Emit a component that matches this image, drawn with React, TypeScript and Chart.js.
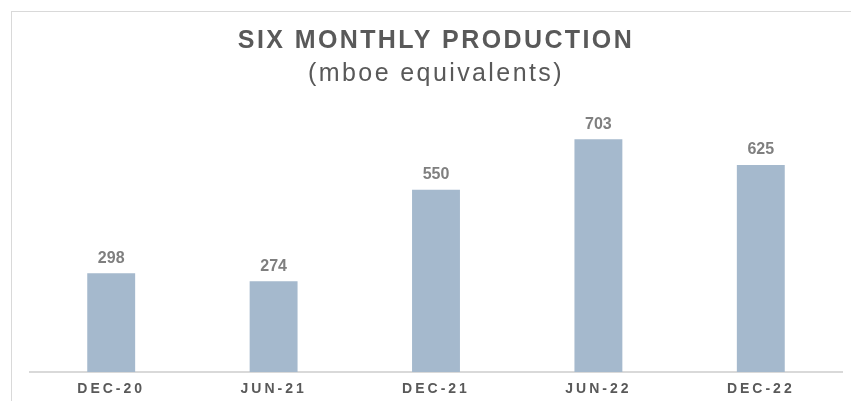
import React, { useEffect, useRef } from "react";
import { Chart, registerables } from "chart.js";

Chart.register(...registerables);

const categories = ["DEC-20", "JUN-21", "DEC-21", "JUN-22", "DEC-22"];
const production = [298, 274, 550, 703, 625];
const titleText = "SIX MONTHLY PRODUCTION";
const subtitleText = "(mboe equivalents)";

const FONT = "'Liberation Sans', Arial, sans-serif";

const framePlugin = {
  id: "frameAndSpacing",
  beforeDraw(chart: any) {
    const ctx = chart.ctx;
    ctx.save();
    ctx.strokeStyle = "#d9d9d9";
    ctx.lineWidth = 1;
    ctx.strokeRect(11.5, 11.5, 1000, 1000);
    ctx.restore();
    ctx.letterSpacing = "2.4px";
  },
  afterDatasetsDraw(chart: any) {
    const ctx = chart.ctx;
    const meta = chart.getDatasetMeta(0);
    const data = chart.data.datasets[0].data;
    ctx.save();
    ctx.letterSpacing = "0px";
    ctx.font = `bold 16px ${FONT}`;
    ctx.fillStyle = "#7f7f7f";
    ctx.textAlign = "center";
    ctx.textBaseline = "alphabetic";
    meta.data.forEach((bar: any, i: number) => {
      ctx.fillText(String(data[i]), bar.x, bar.y - 10.6);
    });
    ctx.restore();
    ctx.letterSpacing = "3px";
  },
  afterDraw(chart: any) {
    chart.ctx.letterSpacing = "0px";
  },
};

export default function App() {
  const ref = useRef<HTMLCanvasElement | null>(null);
  useEffect(() => {
    if (!ref.current) return;
    const chart = new Chart(ref.current, {
      type: "bar",
      data: {
        labels: categories,
        datasets: [
          {
            data: production,
            backgroundColor: "#a5b9cd",
            categoryPercentage: 1,
            barPercentage: 0.295,
          },
        ],
      },
      options: {
        animation: false,
        responsive: false,
        devicePixelRatio: 1,
        layout: { padding: { left: 30, right: 9, top: 0, bottom: 3.2 } },
        plugins: {
          legend: { display: false },
          tooltip: { enabled: false },
          title: {
            display: true,
            text: titleText,
            color: "#595959",
            font: { family: FONT, size: 25, weight: "bold", lineHeight: 1.2 },
            padding: { top: 26, bottom: 0 },
          },
          subtitle: {
            display: true,
            text: subtitleText,
            color: "#595959",
            font: { family: FONT, size: 25, weight: "normal", lineHeight: 1.2 },
            padding: { top: 3.5, bottom: 17.5 },
          },
        },
        scales: {
          x: {
            grid: { display: false, drawTicks: false },
            border: { display: true, color: "#d9d9d9", width: 2 },
            afterFit(scale: any) {
              scale.height = 25.8;
            },
            ticks: {
              z: 1,
              color: "#595959",
              padding: 9,
              font: { family: FONT, size: 14, weight: "bold" },
            },
          },
          y: {
            display: false,
            min: 0,
            max: 800,
          },
        },
      },
      plugins: [framePlugin],
    });
    return () => chart.destroy();
  }, []);
  return (
    <div style={{ position: "fixed", left: 0, top: 0, width: 851, height: 401, overflow: "hidden", background: "#fff" }}>
      <canvas ref={ref} width={851} height={401} style={{ display: "block" }} />
    </div>
  );
}
